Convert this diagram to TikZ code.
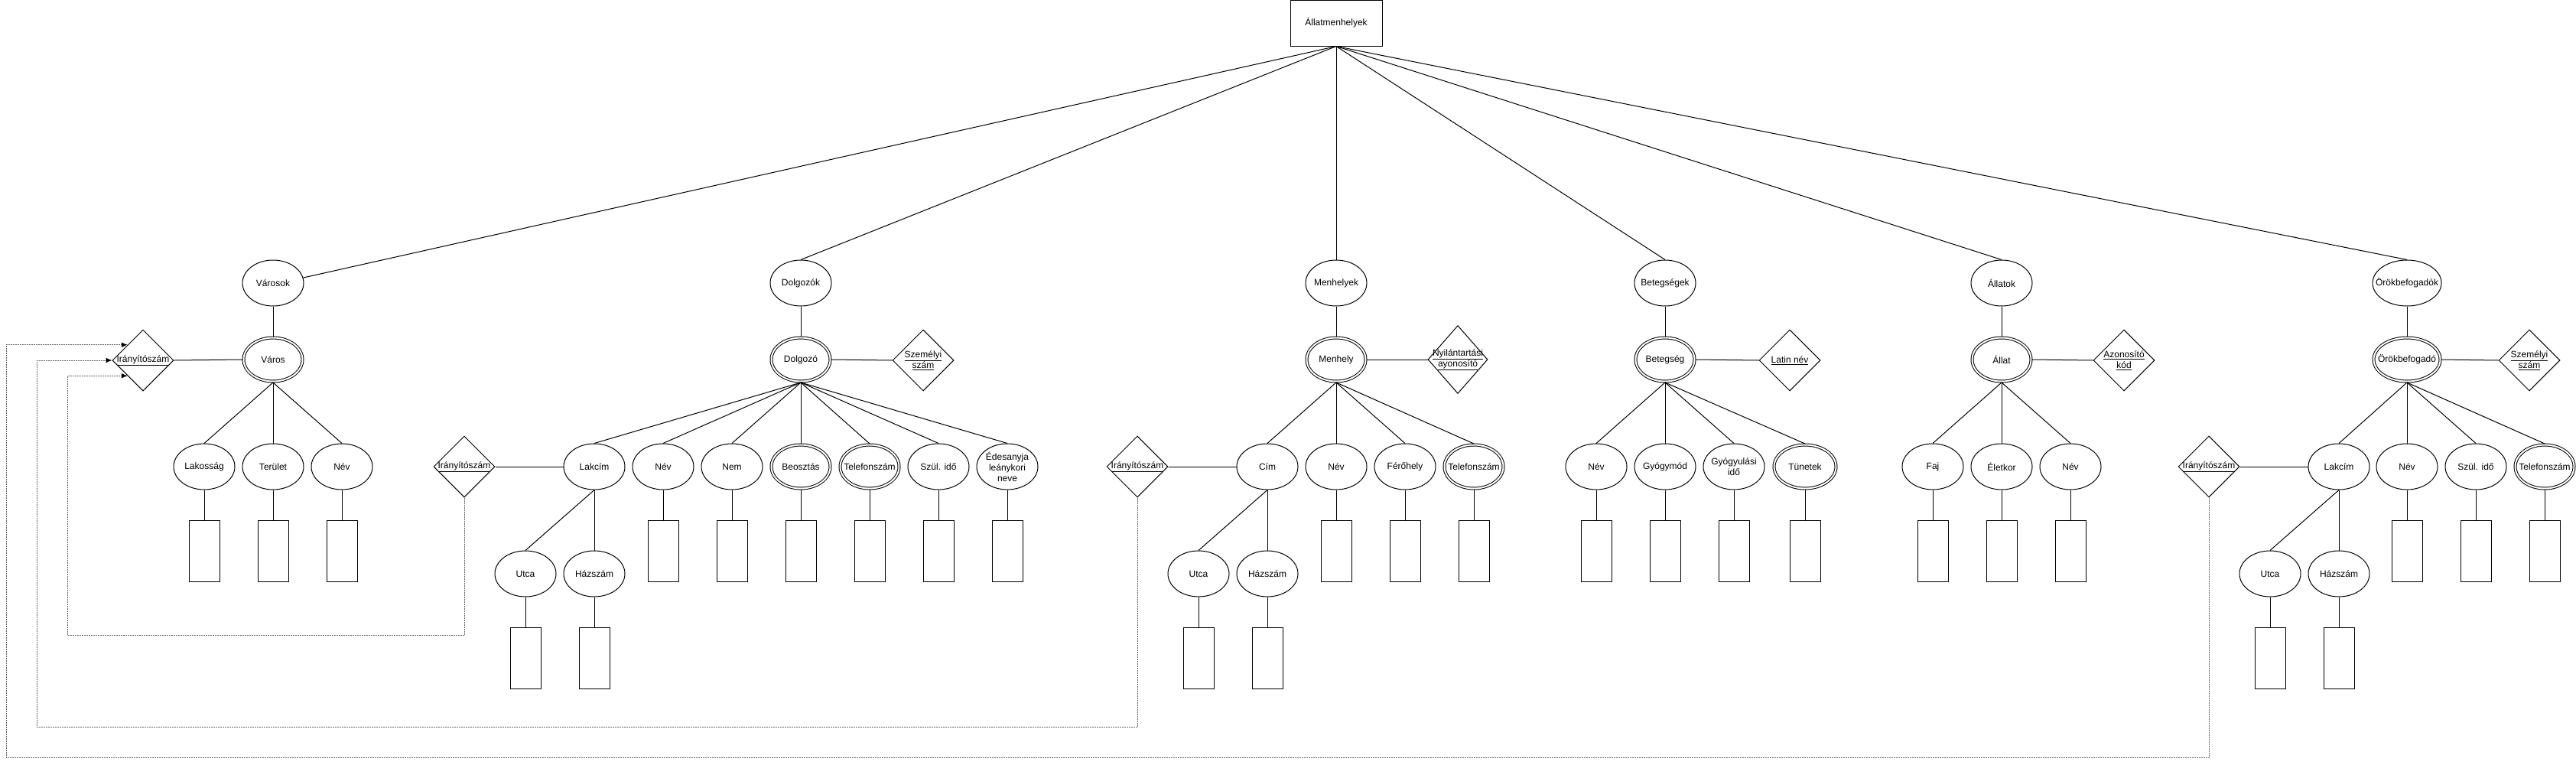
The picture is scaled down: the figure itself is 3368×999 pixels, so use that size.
\documentclass[tikz,border=0pt]{standalone}
\usepackage{fontspec}
\setmainfont{Liberation Sans}
\usetikzlibrary{shapes.geometric,arrows.meta,calc}
\begin{document}
\begin{tikzpicture}[x=1pt,y=-1pt,
  every node/.style={font=\fontsize{12}{14}\selectfont, inner sep=0pt},
  conn/.style={line width=1pt, draw=black},
  ell/.style={ellipse, draw, line width=1pt, minimum width=80pt, minimum height=60pt},
  dell/.style={ellipse, draw, line width=1pt, double, double distance=2pt, minimum width=77pt, minimum height=57pt, outer sep=1.5pt},
  keyd/.style={diamond, draw, line width=1pt, minimum width=80pt, minimum height=80pt},
  val/.style={rectangle, draw, line width=1pt, minimum width=40pt, minimum height=80pt},
  lbl/.style={align=center, font=\fontsize{12}{14}\selectfont},
  loopline/.style={line width=1pt, draw=black!60, dash pattern=on 2pt off 1pt, -{Latex[length=8pt,width=7pt,color=black]}},
]
\useasboundingbox (0,0) rectangle (3368,999);

% root
\node[draw, line width=1pt, minimum width=120pt, minimum height=60pt] (root) at (1747,30) {Állatmenhelyek};

% row 1
\node[ell, label={[lbl]center:Városok}] (Varosok) at (357,370) {};
\node[ell, label={[lbl]center:Dolgozók}] (Dolgozok) at (1047,370) {};
\node[ell, label={[lbl]center:Menhelyek}] (Menhelyek) at (1747,370) {};
\node[ell, label={[lbl]center:Betegségek}] (Betegsegek) at (2177,370) {};
\node[ell, label={[lbl]center:Állatok}] (Allatok) at (2617,370) {};
\node[ell, minimum width=90pt, label={[lbl]center:Örökbefogadók}] (Orokk) at (3147,370) {};

\draw[conn] (root.south) -- (Varosok.10);
\foreach \n in {Dolgozok,Menhelyek,Betegsegek,Allatok,Orokk}
  \draw[conn] (root.south) -- (\n.north);

% entities
\node[dell, label={[lbl]center:Város}] (Varos) at (357,470) {};
\node[dell, label={[lbl]center:Dolgozó}] (Dolgozo) at (1047,470) {};
\node[dell, label={[lbl]center:Menhely}] (Menhely) at (1747,470) {};
\node[dell, label={[lbl]center:Betegség}] (Betegseg) at (2177,470) {};
\node[dell, label={[lbl]center:Állat}] (Allat) at (2617,470) {};
\node[dell, minimum width=87pt, label={[lbl]center:Örökbefogadó}] (Orok) at (3147,470) {};

\draw[conn] (Varosok.south) -- (Varos.north);
\draw[conn] (Dolgozok.south) -- (Dolgozo.north);
\draw[conn] (Menhelyek.south) -- (Menhely.north);
\draw[conn] (Betegsegek.south) -- (Betegseg.north);
\draw[conn] (Allatok.south) -- (Allat.north);
\draw[conn] (Orokk.south) -- (Orok.north);

% key diamonds
\node[keyd, label={[lbl]center:\underline{Irányítószám}}] (Ir1) at (187,471) {};
\node[keyd, label={[lbl]center:\underline{Személyi}\\\underline{szám}}] (Szem1) at (1207,471) {};
\node[keyd, minimum width=78pt, minimum height=89pt, label={[lbl]center:\underline{Nyilántartási}\\\underline{ayonosító}}] (Nyil) at (1906,470) {};
\node[keyd, label={[lbl]center:\underline{Latin név}}] (Latin) at (2340,471) {};
\node[keyd, label={[lbl]center:\underline{Azonosító}\\\underline{kód}}] (Azon) at (2777,471) {};
\node[keyd, label={[lbl]center:\underline{Személyi}\\\underline{szám}}] (Szem2) at (3307,471) {};

\draw[conn] (Ir1.east) -- (Varos.west);
\draw[conn] (Dolgozo.east) -- (Szem1.west);
\draw[conn] (Menhely.east) -- (Nyil.west);
\draw[conn] (Betegseg.east) -- (Latin.west);
\draw[conn] (Allat.east) -- (Azon.west);
\draw[conn] (Orok.east) -- (Szem2.west);

% ---- Városok group attributes
\node[ell, label={[lbl]center:Lakosság}] (Lak) at (267,610) {};
\node[ell, label={[lbl]center:Terület}] (Ter) at (357,610) {};
\node[ell, label={[lbl]center:Név}] (VNev) at (447,610) {};

% ---- Dolgozó group
\node[keyd, label={[lbl]center:\underline{Irányítószám}}] (Ir2) at (607,610) {};
\node[ell, label={[lbl]center:Lakcím}] (Lakcim1) at (777,610) {};
\node[ell, label={[lbl]center:Név}] (DNev) at (867,610) {};
\node[ell, label={[lbl]center:Nem}] (Nem) at (957,610) {};
\node[dell, label={[lbl]center:Beosztás}] (Beo) at (1047,610) {};
\node[dell, label={[lbl]center:Telefonszám}] (DTel) at (1137,610) {};
\node[ell, label={[lbl]center:Szül. idő}] (DSzul) at (1227,610) {};
\node[ell, label={[lbl]center:Édesanyja\\leánykori\\neve}] (Edes) at (1317,610) {};
\node[ell, label={[lbl]center:Utca}] (Utca1) at (687,750) {};
\node[ell, label={[lbl]center:Házszám}] (Haz1) at (777,750) {};

% ---- Menhely group
\node[keyd, label={[lbl]center:\underline{Irányítószám}}] (Ir3) at (1487,610) {};
\node[ell, label={[lbl]center:Cím}] (Cim) at (1657,610) {};
\node[ell, label={[lbl]center:Név}] (MNev) at (1747,610) {};
\node[ell, label={[lbl]center:Férőhely}] (Fero) at (1837,610) {};
\node[dell, label={[lbl]center:Telefonszám}] (MTel) at (1927,610) {};
\node[ell, label={[lbl]center:Utca}] (Utca2) at (1567,750) {};
\node[ell, label={[lbl]center:Házszám}] (Haz2) at (1657,750) {};

% ---- Betegség group
\node[ell, label={[lbl]center:Név}] (BNev) at (2087,610) {};
\node[ell, label={[lbl]center:Gyógymód}] (Gyogy) at (2177,610) {};
\node[ell, label={[lbl]center:Gyógyulási\\idő}] (Gyul) at (2267,610) {};
\node[dell, minimum width=81pt, label={[lbl]center:Tünetek}] (Tun) at (2360,610) {};

% ---- Állat group
\node[ell, label={[lbl]center:Faj}] (Faj) at (2527,610) {};
\node[ell, label={[lbl]center:Életkor}] (Elet) at (2617,610) {};
\node[ell, label={[lbl]center:Név}] (ANev) at (2707,610) {};

% ---- Örökbefogadó group
\node[keyd, label={[lbl]center:\underline{Irányítószám}}] (Ir4) at (2888,610) {};
\node[ell, label={[lbl]center:Lakcím}] (Lakcim2) at (3058,610) {};
\node[ell, label={[lbl]center:Név}] (ONev) at (3147,610) {};
\node[ell, label={[lbl]center:Szül. idő}] (OSzul) at (3237,610) {};
\node[dell, label={[lbl]center:Telefonszám}] (OTel) at (3327,610) {};
\node[ell, label={[lbl]center:Utca}] (Utca3) at (2968,750) {};
\node[ell, label={[lbl]center:Házszám}] (Haz3) at (3058,750) {};

% entity -> attribute edges
\foreach \n in {Lak,Ter,VNev} \draw[conn] (Varos.south) -- (\n.north);
\foreach \n in {Lakcim1,DNev,Nem,Beo,DTel,DSzul,Edes} \draw[conn] (Dolgozo.south) -- (\n.north);
\foreach \n in {Cim,MNev,Fero,MTel} \draw[conn] (Menhely.south) -- (\n.north);
\foreach \n in {BNev,Gyogy,Gyul,Tun} \draw[conn] (Betegseg.south) -- (\n.north);
\foreach \n in {Faj,Elet,ANev} \draw[conn] (Allat.south) -- (\n.north);
\foreach \n in {Lakcim2,ONev,OSzul,OTel} \draw[conn] (Orok.south) -- (\n.north);

\foreach \n in {Utca1,Haz1} \draw[conn] (Lakcim1.south) -- (\n.north);
\foreach \n in {Utca2,Haz2} \draw[conn] (Cim.south) -- (\n.north);
\foreach \n in {Utca3,Haz3} \draw[conn] (Lakcim2.south) -- (\n.north);

\draw[conn] (Ir2.east) -- (Lakcim1.west);
\draw[conn] (Ir3.east) -- (Cim.west);
\draw[conn] (Ir4.east) -- (Lakcim2.west);

% value boxes
\foreach \n/\x in {Lak/267,Ter/357,VNev/447,DNev/867,Nem/957,Beo/1047,DTel/1137,DSzul/1227,Edes/1317,MNev/1747,Fero/1837,MTel/1927,BNev/2087,Gyogy/2177,Gyul/2267,Tun/2360,Faj/2527,Elet/2617,ANev/2707,ONev/3147,OSzul/3237,OTel/3327}{
  \node[val] (v\n) at (\x,720) {};
  \draw[conn] (\n.south) -- (v\n.north);
}
\foreach \n/\x in {Utca1/687,Haz1/777,Utca2/1567,Haz2/1657,Utca3/2968,Haz3/3058}{
  \node[val] (v\n) at (\x,860) {};
  \draw[conn] (\n.south) -- (v\n.north);
}

% foreign-key loops
\draw[loopline] (Ir2.south) |- (88,830) |- ($(Ir1.west)!0.5!(Ir1.south)$);
\draw[loopline] (Ir3.south) |- (48,950) |- (Ir1.west);
\draw[loopline] (Ir4.south) |- (8,990) |- ($(Ir1.west)!0.5!(Ir1.north)$);
\end{tikzpicture}
\end{document}
